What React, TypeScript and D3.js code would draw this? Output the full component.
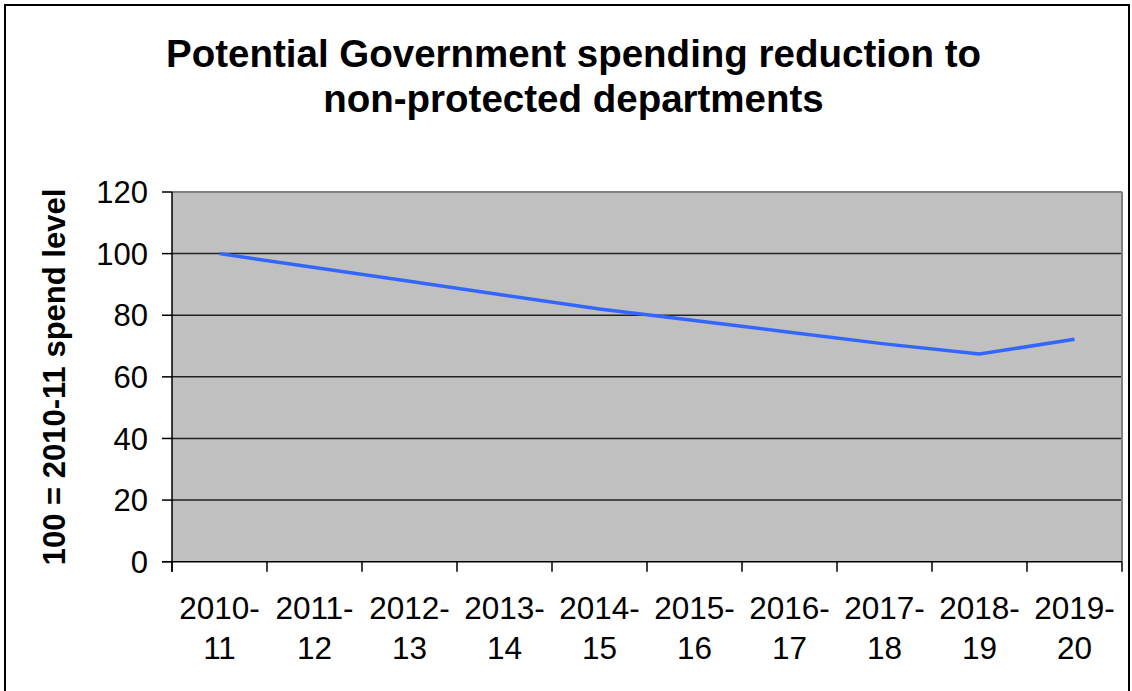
import React from "react";
import * as d3 from "d3";

const categories = ["2010-11", "2011-12", "2012-13", "2013-14", "2014-15", "2015-16", "2016-17", "2017-18", "2018-19", "2019-20"];
const values = [100, 95.5, 91, 86.5, 82, 78.3, 74.5, 70.7, 67.4, 72.2];
const yTicks = [0, 20, 40, 60, 80, 100, 120];
const titleLines = ["Potential Government spending reduction to", "non-protected departments"];
const yTitle = "100 = 2010-11 spend level";

const W = 1132, H = 691;
const M = { left: 172, right: 1122, top: 192, bottom: 561.7 };

export default function App() {
  const x = d3.scaleBand<string>().domain(categories).range([M.left, M.right]);
  const y = d3.scaleLinear().domain([0, 120]).range([M.bottom, M.top]);
  const line = d3.line<number>()
    .x((_, i) => (x(categories[i]) as number) + x.bandwidth() / 2)
    .y((d) => y(d));
  const font = "Liberation Sans, Arial, sans-serif";
  const xTickPositions = categories.map((c) => x(c) as number).concat([M.right]);
  return (
    <svg width={W} height={H} style={{ position: "absolute", left: 0, top: 0 }} fontFamily={font}>
      <rect x={0} y={0} width={W} height={H} fill="#fff" />
      <rect x={5} y={5} width={1124} height={720} fill="none" stroke="#000" strokeWidth={2} />
      {titleLines.map((t, i) => (
        <text key={i} x={573.5} y={67 + i * 45} textAnchor="middle" fontSize={38.5} fontWeight="bold" fill="#000">{t}</text>
      ))}
      <rect x={M.left} y={M.top} width={M.right - M.left} height={M.bottom - M.top} fill="#c0c0c0" />
      {yTicks.filter((t) => t > 0 && t < 120).map((t) => (
        <line key={t} x1={M.left} x2={M.right} y1={y(t)} y2={y(t)} stroke="#222" strokeWidth={1.5} />
      ))}
      <line x1={M.left} x2={M.right} y1={M.top} y2={M.top} stroke="#808080" strokeWidth={2} />
      <line x1={M.right} x2={M.right} y1={M.top} y2={M.bottom} stroke="#808080" strokeWidth={2} />
      <line x1={M.left} x2={M.left} y1={M.top} y2={M.bottom + 10} stroke="#000" strokeWidth={1.5} />
      <line x1={M.left - 10} x2={M.right} y1={M.bottom} y2={M.bottom} stroke="#000" strokeWidth={1.5} />
      {yTicks.map((t) => (
        <g key={t}>
          <line x1={M.left - 10} x2={M.left} y1={y(t)} y2={y(t)} stroke="#000" strokeWidth={1.5} />
          <text x={148} y={y(t)} dy="0.36em" textAnchor="end" fontSize={31} fill="#000">{t}</text>
        </g>
      ))}
      {xTickPositions.map((p, i) => (
        <line key={i} x1={p} x2={p} y1={M.bottom} y2={M.bottom + 10} stroke="#000" strokeWidth={1.5} />
      ))}
      {categories.map((c) => {
        const [a, b] = c.split("-");
        const cx = (x(c) as number) + x.bandwidth() / 2;
        return (
          <g key={c}>
            <text x={cx} y={619} textAnchor="middle" fontSize={31.5} fill="#000">{a + "-"}</text>
            <text x={cx} y={659} textAnchor="middle" fontSize={31.5} fill="#000">{b}</text>
          </g>
        );
      })}
      <text transform="translate(65,377) rotate(-90)" textAnchor="middle" fontSize={31} fontWeight="bold" fill="#000">{yTitle}</text>
      <path d={line(values) as string} fill="none" stroke="#3366ff" strokeWidth={3.5} />
    </svg>
  );
}
